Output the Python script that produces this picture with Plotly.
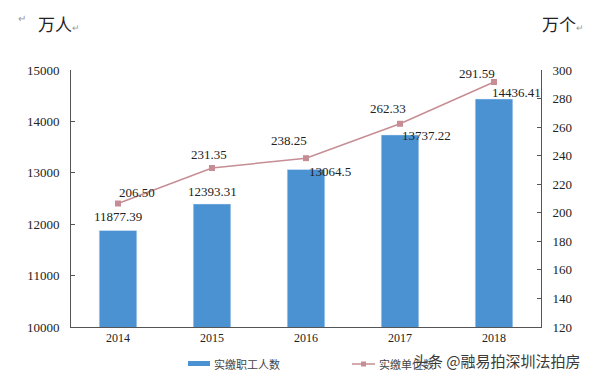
import plotly.graph_objects as go

years = ["2014", "2015", "2016", "2017", "2018"]
workers = [11877.39, 12393.31, 13064.5, 13737.22, 14436.41]
units = [206.50, 231.35, 238.25, 262.33, 291.59]
worker_labels = ["11877.39", "12393.31", "13064.5", "13737.22", "14436.41"]
unit_labels = ["206.50", "231.35", "238.25", "262.33", "291.59"]
series_names = ["实缴职工人数", "实缴单位数"]

# label offsets in pixels (dx, dy) relative to bar top / marker
bar_off = [(0, 14), (0, 12), (24, -2), (26, -1), (22, 6)]
line_off = [(19, 11), (-3, 14), (-17, 18), (-12, 15), (-17, 9)]

BAR = "#4a92d2"
LINE = "#c68e94"
NUM_FONT = "Liberation Serif"
CJK = "Noto Sans CJK SC"

L, R, T, B = 71, 541, 70, 327
PW, PH = R - L, B - T


def px(x):
    return (x - L) / PW


def py(y):
    return (B - y) / PH


fig = go.Figure()
fig.add_trace(go.Bar(
    x=years, y=workers, name=series_names[0], marker_color=BAR, width=0.4,
    yaxis="y",
))
fig.add_trace(go.Scatter(
    x=years, y=units, name=series_names[1], mode="lines+markers",
    line=dict(color=LINE, width=1.5),
    marker=dict(symbol="square", size=6, color=LINE),
    yaxis="y2",
))

ann = []
for i, (yv, t, (dx, dy)) in enumerate(zip(workers, worker_labels, bar_off)):
    ann.append(dict(x=i, y=yv, xref="x", yref="y", text=t, showarrow=False,
                    xshift=dx, yshift=dy, font=dict(family=NUM_FONT, size=13, color="#222")))
for i, (yv, t, (dx, dy)) in enumerate(zip(units, unit_labels, line_off)):
    ann.append(dict(x=i, y=yv, xref="x", yref="y2", text=t, showarrow=False,
                    xshift=dx, yshift=dy, font=dict(family=NUM_FONT, size=13, color="#222")))

titles = [
    dict(text="↵", x=px(22), y=py(17), size=10, color="#999", fam=CJK, anchor="center"),
    dict(text="万人<span style='font-size:9px;color:#999'>↵</span>", x=px(36), y=py(24), size=17, color="#222", fam=CJK, anchor="left"),
    dict(text="万个<span style='font-size:9px;color:#999'>↵</span>", x=px(540), y=py(24), size=17, color="#222", fam=CJK, anchor="left"),
]
for t in titles:
    ann.append(dict(text=t["text"], x=t["x"], y=t["y"], xref="paper", yref="paper",
                    xanchor=t["anchor"], yanchor="middle", showarrow=False,
                    font=dict(family=t["fam"], size=t["size"], color=t["color"])))

# manual legend
ann.append(dict(text=series_names[0], x=px(212), y=py(364), xref="paper", yref="paper",
                xanchor="left", yanchor="middle", showarrow=False,
                font=dict(family=CJK, size=11, color="#444")))
ann.append(dict(text=series_names[1], x=px(377), y=py(364), xref="paper", yref="paper",
                xanchor="left", yanchor="middle", showarrow=False,
                font=dict(family=CJK, size=11, color="#444")))
shapes = [
    dict(type="rect", xref="paper", yref="paper", x0=px(188), x1=px(210), y0=py(366), y1=py(361),
         fillcolor=BAR, line=dict(width=0)),
    dict(type="line", xref="paper", yref="paper", x0=px(352), x1=px(375), y0=py(364), y1=py(364),
         line=dict(color=LINE, width=1.5)),
    dict(type="rect", xref="paper", yref="paper", x0=px(361), x1=px(366), y0=py(366.5), y1=py(361.5),
         fillcolor=LINE, line=dict(width=0)),
]

ann.append(dict(text="头条 @融易拍深圳法拍房", x=px(583), y=py(360),
                xref="paper", yref="paper", xanchor="right", yanchor="middle", showarrow=False,
                font=dict(family=CJK, size=15, color="#3a3a3a", shadow="0px 0px 2px white")))

fig.update_layout(
    annotations=ann,
    shapes=shapes,
    width=594, height=378,
    margin=dict(l=L, r=594 - R, t=T, b=378 - B, autoexpand=False),
    paper_bgcolor="white", plot_bgcolor="white",
    showlegend=False,
    hovermode=False,
    xaxis=dict(type="category", range=[-0.5, 4.5], showline=True, linecolor="#555", linewidth=1,
               ticks="", showgrid=False, automargin=False,
               tickfont=dict(family=NUM_FONT, size=12, color="#222")),
    yaxis=dict(range=[10000, 15000], dtick=1000, tickformat="d", showline=True, linecolor="#555",
               ticks="inside", ticklen=4, tickcolor="#555", showgrid=False, zeroline=False,
               automargin=False,
               tickfont=dict(family=NUM_FONT, size=13, color="#222"), ticklabelstandoff=8),
    yaxis2=dict(range=[120, 300], dtick=20, tickformat="d", overlaying="y", side="right", showline=True,
                linecolor="#555", ticks="inside", ticklen=4, tickcolor="#555",
                showgrid=False, zeroline=False, automargin=False,
                tickfont=dict(family=NUM_FONT, size=13, color="#222"), ticklabelstandoff=8),
)

fig.write_html("out.html", config={"displayModeBar": False},
               post_script="document.body.style.margin='0';document.body.style.overflow='hidden';")
